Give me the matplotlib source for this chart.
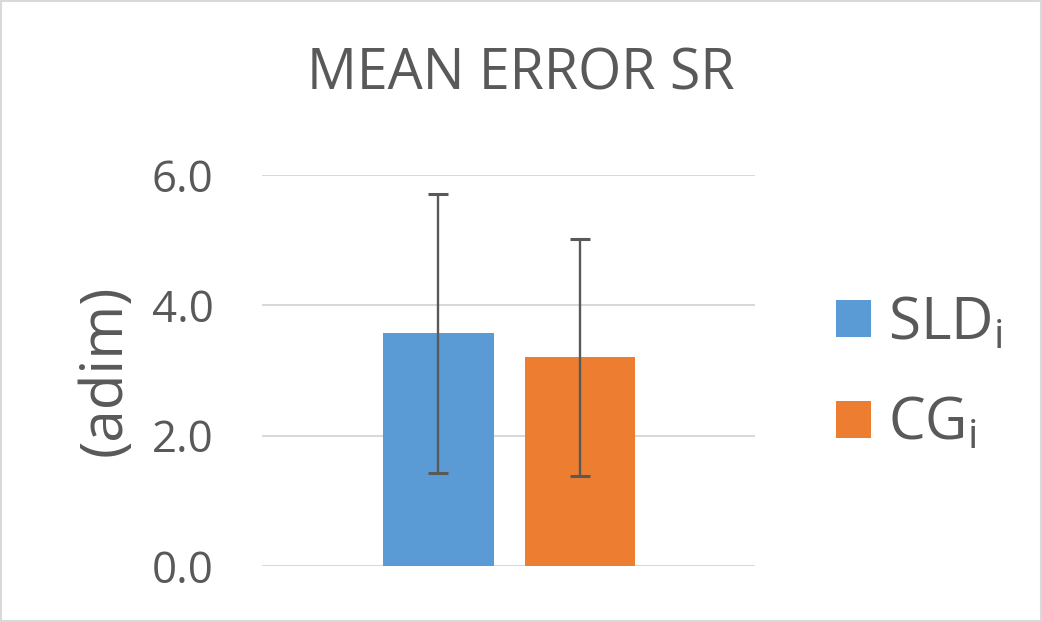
import matplotlib
matplotlib.use("Agg")
import matplotlib.pyplot as plt
from matplotlib.patches import Rectangle

# data
series = ["SLD$_\\mathrm{i}$", "CG$_\\mathrm{i}$"]
means = [3.57, 3.20]
errors = [2.14, 1.82]
colors = ["#5b9bd5", "#ed7d31"]
yticks = [0.0, 2.0, 4.0, 6.0]

plt.rcParams["font.family"] = ["Open Sans", "DejaVu Sans"]
plt.rcParams["mathtext.fontset"] = "custom"
plt.rcParams["mathtext.rm"] = "Open Sans"
plt.rcParams["mathtext.it"] = "Open Sans"
text_color = "#595959"

fig = plt.figure(figsize=(10.42, 6.22), dpi=100)
ax = fig.add_axes([262 / 1042, 1 - 566 / 622, 493 / 1042, 391 / 622])

offsets = [-0.142, 0.145]
width = 0.225
for name, m, e, c, off in zip(series, means, errors, colors, offsets):
    ax.bar(off, m, width=width, color=c, label=name, zorder=2)
    ax.errorbar(off, m, yerr=e, fmt="none", ecolor="#595959", elinewidth=1.7,
                capsize=7.5, capthick=2.2, zorder=3)

ax.set_xlim(-0.5, 0.5)
ax.set_ylim(0, 6)
ax.set_yticks(yticks)
ax.set_yticklabels([f"{t:.1f}" for t in yticks], fontsize=31.5, color=text_color)
ax.set_xticks([])
ax.tick_params(axis="y", length=0, pad=35)
for s in ax.spines.values():
    s.set_visible(False)
ax.yaxis.grid(True, color="#d9d9d9", linewidth=1.5, zorder=0)
ax.set_axisbelow(True)

ax.set_ylabel("(adim)", fontsize=42, color=text_color, labelpad=12)
fig.text(521 / 1042, 1 - 90 / 622, "MEAN ERROR SR",
         ha="center", va="baseline", fontsize=40, color=text_color)

leg = ax.legend(loc="center left", bbox_to_anchor=(1.057, 0.49), frameon=False,
                fontsize=42, handlelength=0.6, handleheight=0.6,
                handletextpad=0.3, labelspacing=0.72, labelcolor=text_color)

fig.patches.append(Rectangle((0.001, 0.001), 0.998, 0.997, transform=fig.transFigure,
                             fill=False, edgecolor="#d9d9d9", linewidth=1.5))

fig.savefig("out.png", dpi=100)
